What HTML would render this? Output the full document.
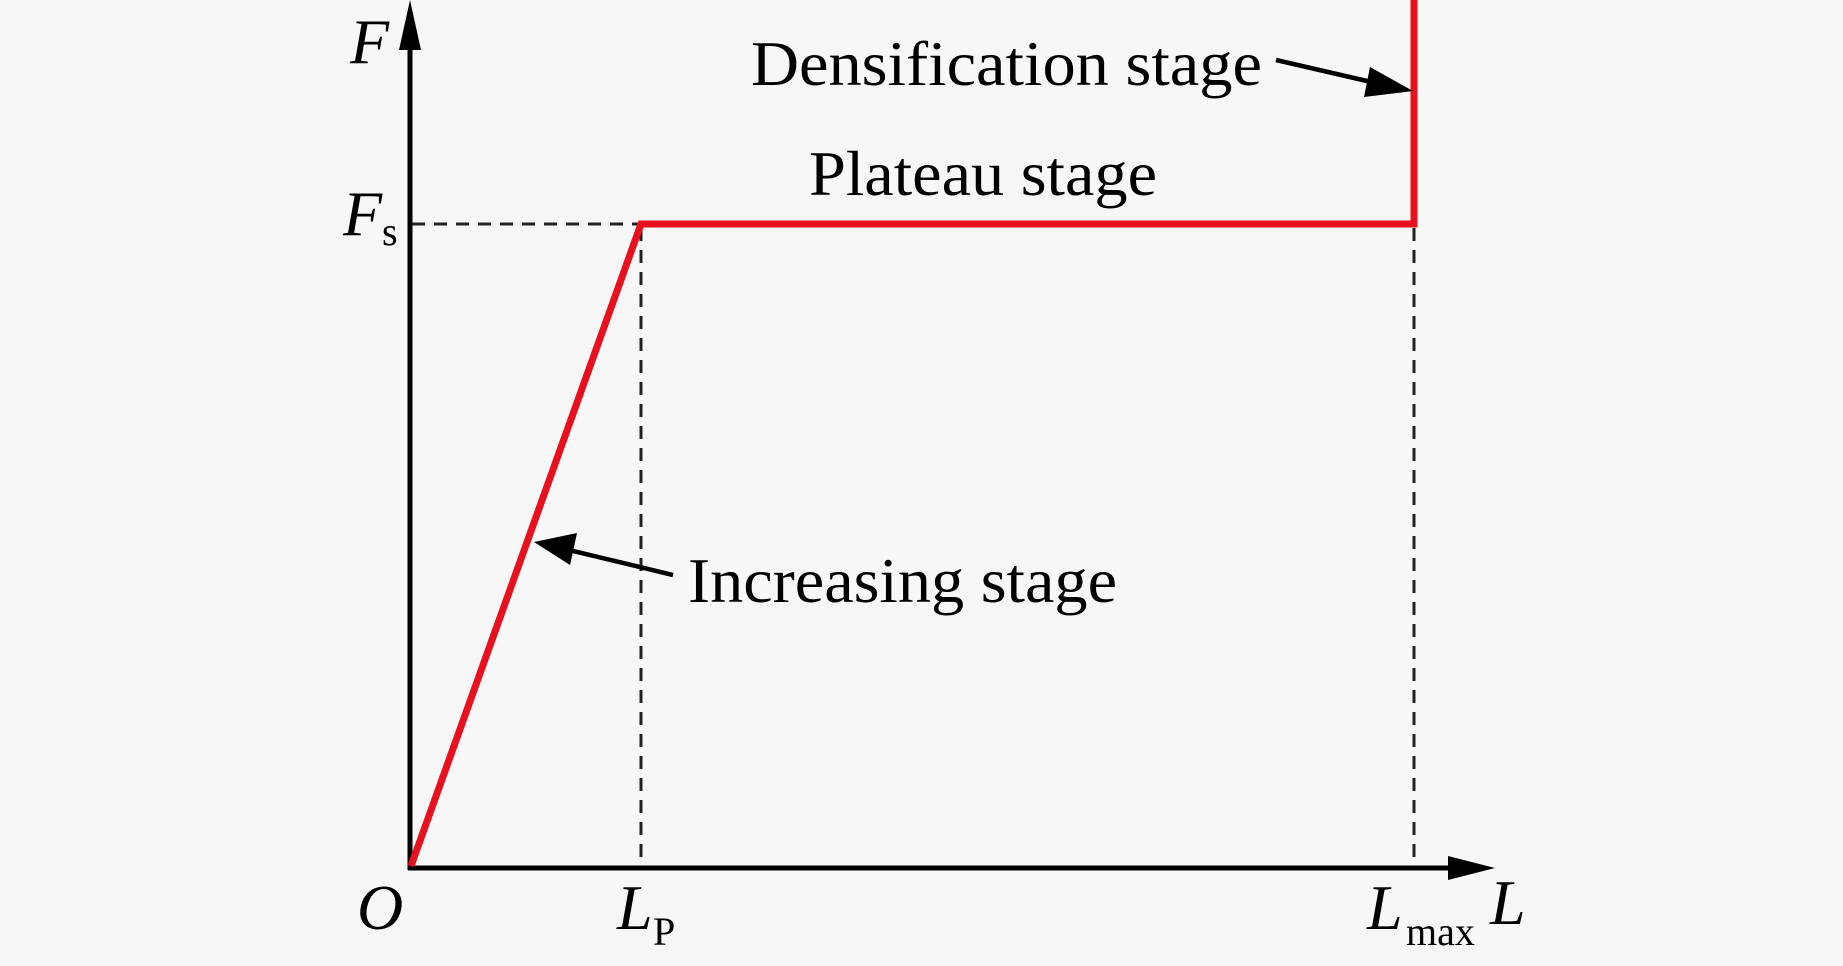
<!DOCTYPE html>
<html><head><meta charset="utf-8"><style>
html,body{margin:0;padding:0;background:#f7f7f7;}
svg{display:block;}
text{font-family:"Liberation Serif",serif;fill:#000;}
</style></head><body>
<svg width="1843" height="966" viewBox="0 0 1843 966">
<rect width="1843" height="966" fill="#f7f7f7"/>
<g stroke="#222" stroke-width="3" stroke-dasharray="13,9" fill="none">
<line x1="412" y1="224" x2="641" y2="224"/>
<line x1="641" y1="228" x2="641" y2="866"/>
<line x1="1414" y1="228" x2="1414" y2="866"/>
</g>
<line x1="410" y1="870" x2="410" y2="40" stroke="#000" stroke-width="5"/>
<polygon points="410,0 399,50 421,50" fill="#000"/>
<line x1="408" y1="868" x2="1460" y2="868" stroke="#000" stroke-width="5"/>
<polygon points="1495,868 1448,856 1448,880" fill="#000"/>
<polyline points="411,866 641,224 1414,224 1414,0" fill="none" stroke="#e8101c" stroke-width="7" stroke-linejoin="miter"/>
<line x1="1276" y1="60" x2="1380" y2="84" stroke="#000" stroke-width="4.5"/>
<polygon points="1413,91 1370,67 1364,97" fill="#000"/>
<line x1="673" y1="575" x2="565" y2="549" stroke="#000" stroke-width="4.5"/>
<polygon points="534,542 577,533 570,565" fill="#000"/>
<text x="751" y="85" font-size="64" textLength="511" lengthAdjust="spacingAndGlyphs">Densification stage</text>
<text x="809" y="195" font-size="64" textLength="348" lengthAdjust="spacingAndGlyphs">Plateau stage</text>
<text x="688" y="602" font-size="64" textLength="429" lengthAdjust="spacingAndGlyphs">Increasing stage</text>
<text x="350" y="63" font-size="64" font-style="italic">F</text>
<text x="343" y="235" font-size="64" font-style="italic">F</text>
<text x="382" y="245" font-size="40">s</text>
<text x="357" y="929" font-size="64" font-style="italic">O</text>
<text x="617" y="929" font-size="64" font-style="italic">L</text>
<text x="653" y="945" font-size="40">P</text>
<text x="1367" y="929" font-size="64" font-style="italic">L</text>
<text x="1406" y="945" font-size="40">max</text>
<text x="1490" y="924" font-size="64" font-style="italic">L</text>
</svg>
</body></html>
